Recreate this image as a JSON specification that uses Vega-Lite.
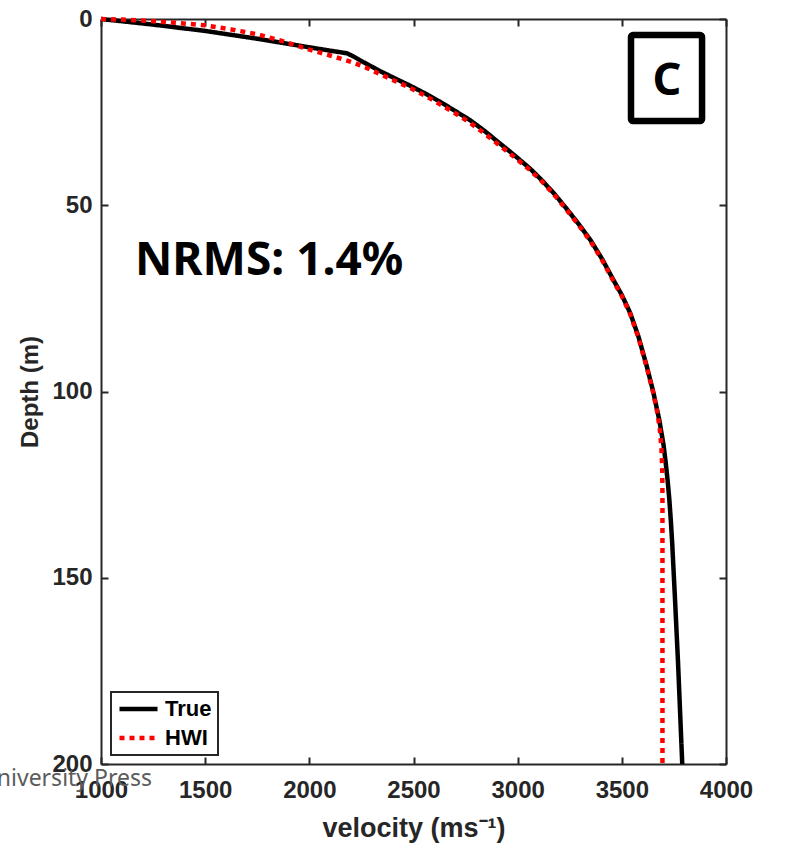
{
  "$schema": "https://vega.github.io/schema/vega-lite/v6.json",
  "width": 625,
  "height": 745,
  "autosize": {"type": "none"},
  "padding": {"left": 101, "top": 19, "right": 59, "bottom": 82},
  "background": "white",
  "config": {
    "view": {"stroke": null},
    "axis": {
      "grid": false,
      "domainColor": "#262626",
      "domainWidth": 2,
      "tickColor": "#262626",
      "tickWidth": 2,
      "tickSize": -7,
      "labelFont": "Liberation Sans",
      "labelFontSize": 24,
      "labelFontWeight": "bold",
      "labelColor": "#262626",
      "titleFont": "Liberation Sans",
      "titleFontSize": 24,
      "titleFontWeight": "bold",
      "titleColor": "#262626"
    },
    "legend": {
      "strokeColor": "#262626",
      "strokeWidth": 2,
      "fillColor": "white",
      "padding": 6,
      "labelFont": "Liberation Sans",
      "labelFontSize": 22,
      "labelFontWeight": "bold",
      "labelColor": "#000000",
      "labelOffset": 5,
      "symbolType": "stroke",
      "symbolSize": 1444,
      "symbolStrokeWidth": 4.5,
      "clipHeight": 22,
      "rowPadding": 7
    }
  },
  "datasets": {
    "profiles": [
      {"series": "True", "v": 1000, "d": 0},
      {"series": "True", "v": 1250, "d": 1.5},
      {"series": "True", "v": 1500, "d": 3.2},
      {"series": "True", "v": 1750, "d": 5.3},
      {"series": "True", "v": 2000, "d": 7.6},
      {"series": "True", "v": 2100, "d": 8.5},
      {"series": "True", "v": 2180, "d": 9.2},
      {"series": "True", "v": 2210, "d": 10.0},
      {"series": "True", "v": 2260, "d": 11.6},
      {"series": "True", "v": 2340, "d": 14.0},
      {"series": "True", "v": 2420, "d": 16.2},
      {"series": "True", "v": 2480, "d": 17.8},
      {"series": "True", "v": 2560, "d": 20.1},
      {"series": "True", "v": 2630, "d": 22.3},
      {"series": "True", "v": 2700, "d": 24.7},
      {"series": "True", "v": 2770, "d": 27.1},
      {"series": "True", "v": 2840, "d": 30.0},
      {"series": "True", "v": 2910, "d": 33.2},
      {"series": "True", "v": 2985, "d": 36.6},
      {"series": "True", "v": 3060, "d": 40.2},
      {"series": "True", "v": 3120, "d": 43.5},
      {"series": "True", "v": 3180, "d": 47.2},
      {"series": "True", "v": 3240, "d": 51.3},
      {"series": "True", "v": 3295, "d": 55.2},
      {"series": "True", "v": 3350, "d": 59.4},
      {"series": "True", "v": 3405, "d": 64.4},
      {"series": "True", "v": 3460, "d": 70.1},
      {"series": "True", "v": 3500, "d": 74.1},
      {"series": "True", "v": 3540, "d": 78.9},
      {"series": "True", "v": 3580, "d": 85.3},
      {"series": "True", "v": 3620, "d": 93.3},
      {"series": "True", "v": 3650, "d": 99.9},
      {"series": "True", "v": 3680, "d": 107.7},
      {"series": "True", "v": 3700, "d": 114.3},
      {"series": "True", "v": 3710, "d": 118.8},
      {"series": "True", "v": 3720, "d": 124.0},
      {"series": "True", "v": 3728, "d": 129.0},
      {"series": "True", "v": 3735, "d": 134.5},
      {"series": "True", "v": 3742, "d": 141.0},
      {"series": "True", "v": 3755, "d": 155.5},
      {"series": "True", "v": 3770, "d": 173.0},
      {"series": "True", "v": 3790, "d": 200.0},
      {"series": "HWI", "v": 1000, "d": 0},
      {"series": "HWI", "v": 1125, "d": 0.2},
      {"series": "HWI", "v": 1250, "d": 0.6},
      {"series": "HWI", "v": 1375, "d": 1.1},
      {"series": "HWI", "v": 1500, "d": 1.7},
      {"series": "HWI", "v": 1625, "d": 2.8},
      {"series": "HWI", "v": 1750, "d": 4.1},
      {"series": "HWI", "v": 1875, "d": 6.0},
      {"series": "HWI", "v": 2000, "d": 8.2},
      {"series": "HWI", "v": 2100, "d": 9.8},
      {"series": "HWI", "v": 2200, "d": 11.5},
      {"series": "HWI", "v": 2270, "d": 13.0},
      {"series": "HWI", "v": 2340, "d": 14.8},
      {"series": "HWI", "v": 2410, "d": 16.6},
      {"series": "HWI", "v": 2480, "d": 18.4},
      {"series": "HWI", "v": 2560, "d": 20.7},
      {"series": "HWI", "v": 2630, "d": 23.0},
      {"series": "HWI", "v": 2700, "d": 25.3},
      {"series": "HWI", "v": 2770, "d": 27.8},
      {"series": "HWI", "v": 2840, "d": 30.7},
      {"series": "HWI", "v": 2910, "d": 33.8},
      {"series": "HWI", "v": 2985, "d": 37.1},
      {"series": "HWI", "v": 3060, "d": 40.6},
      {"series": "HWI", "v": 3120, "d": 43.8},
      {"series": "HWI", "v": 3180, "d": 47.5},
      {"series": "HWI", "v": 3240, "d": 51.6},
      {"series": "HWI", "v": 3295, "d": 55.5},
      {"series": "HWI", "v": 3350, "d": 59.7},
      {"series": "HWI", "v": 3405, "d": 64.7},
      {"series": "HWI", "v": 3460, "d": 70.4},
      {"series": "HWI", "v": 3500, "d": 74.4},
      {"series": "HWI", "v": 3540, "d": 79.2},
      {"series": "HWI", "v": 3580, "d": 85.6},
      {"series": "HWI", "v": 3620, "d": 93.6},
      {"series": "HWI", "v": 3650, "d": 100.2},
      {"series": "HWI", "v": 3670, "d": 105.5},
      {"series": "HWI", "v": 3682, "d": 110.0},
      {"series": "HWI", "v": 3690, "d": 115.0},
      {"series": "HWI", "v": 3694, "d": 121.0},
      {"series": "HWI", "v": 3695, "d": 128.0},
      {"series": "HWI", "v": 3695, "d": 200.0}
    ],
    "panel": [
      {"v0": 3544, "v1": 3885, "d0": 4.3, "d1": 27.4, "v": 3717, "d": 20.4, "label": "C"}
    ],
    "score": [
      {"v": 1163, "d": 68.7, "label": "NRMS: 1.4%"}
    ],
    "credit": [
      {"v": 1245, "d": 205.9, "label": "University Press"}
    ]
  },
  "resolve": {"axis": {"x": "independent", "y": "independent"}},
  "layer": [
    {
      "data": {"name": "profiles"},
      "mark": {"type": "line", "strokeWidth": 4.5, "strokeCap": "butt", "strokeJoin": "round"},
      "encoding": {
        "x": {
          "field": "v", "type": "quantitative",
          "scale": {"domain": [1000, 4000], "nice": false, "zero": false},
          "axis": {"orient": "bottom", "values": [1000, 1500, 2000, 2500, 3000, 3500, 4000], "format": "d", "labelPadding": 21, "labelFlush": false, "title": "velocity (ms⁻¹)", "titleFontSize": 27, "titlePadding": 13}
        },
        "y": {
          "field": "d", "type": "quantitative",
          "scale": {"domain": [0, 200], "nice": false, "zero": false, "reverse": true},
          "axis": {"orient": "left", "values": [0, 50, 100, 150, 200], "format": "d", "labelPadding": 16, "labelFlush": false, "title": "Depth (m)", "titlePadding": 9}
        },
        "order": {"field": "d", "type": "quantitative"},
        "color": {
          "field": "series", "type": "nominal",
          "scale": {"domain": ["True", "HWI"], "range": ["#000000", "#ff0000"]},
          "legend": {"title": null, "orient": "none", "legendX": 10, "legendY": 673}
        },
        "strokeDash": {
          "field": "series", "type": "nominal",
          "scale": {"domain": ["True", "HWI"], "range": [[1, 0], [5, 5]]},
          "legend": {"title": null, "orient": "none", "legendX": 10, "legendY": 673}
        }
      }
    },
    {
      "data": {"name": "panel"},
      "mark": {"type": "rect", "fill": "white", "stroke": "#000000", "strokeWidth": 6.5, "cornerRadius": 2},
      "encoding": {
        "x": {
          "field": "v0", "type": "quantitative",
          "scale": {"domain": [1000, 4000], "nice": false, "zero": false},
          "axis": {"orient": "top", "values": [1000, 1500, 2000, 2500, 3000, 3500, 4000], "labels": false, "title": null}
        },
        "x2": {"field": "v1"},
        "y": {
          "field": "d0", "type": "quantitative",
          "scale": {"domain": [0, 200], "nice": false, "zero": false, "reverse": true},
          "axis": {"orient": "right", "values": [0, 50, 100, 150, 200], "labels": false, "title": null}
        },
        "y2": {"field": "d1"}
      }
    },
    {
      "data": {"name": "panel"},
      "mark": {"type": "text", "font": "Noto Sans", "fontWeight": "bold", "fontSize": 45, "align": "center", "baseline": "alphabetic", "color": "#000000"},
      "encoding": {
        "x": {"field": "v", "type": "quantitative", "axis": null},
        "y": {"field": "d", "type": "quantitative", "axis": null},
        "text": {"field": "label"}
      }
    },
    {
      "data": {"name": "score"},
      "mark": {"type": "text", "font": "Noto Sans", "fontWeight": "bold", "fontSize": 46, "align": "left", "baseline": "alphabetic", "color": "#000000"},
      "encoding": {
        "x": {"field": "v", "type": "quantitative", "axis": null},
        "y": {"field": "d", "type": "quantitative", "axis": null},
        "text": {"field": "label"}
      }
    },
    {
      "data": {"name": "credit"},
      "mark": {"type": "text", "font": "Noto Sans", "fontSize": 23, "align": "right", "baseline": "alphabetic", "color": "#5c5c5c"},
      "encoding": {
        "x": {"field": "v", "type": "quantitative", "axis": null},
        "y": {"field": "d", "type": "quantitative", "axis": null},
        "text": {"field": "label"}
      }
    }
  ]
}
